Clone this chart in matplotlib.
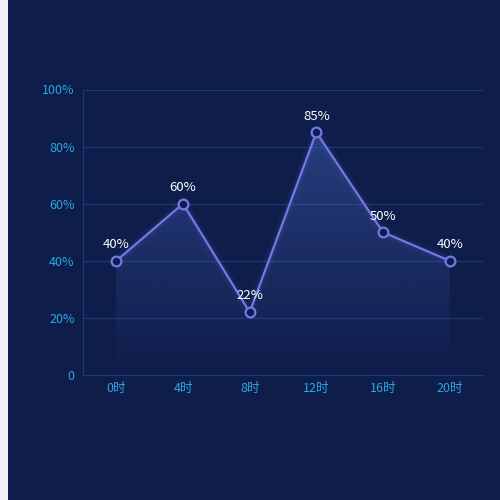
import matplotlib
matplotlib.use("Agg")
import matplotlib.pyplot as plt
import numpy as np
from matplotlib.patches import Rectangle, Polygon

plt.rcParams['font.family'] = ['Noto Sans CJK SC', 'DejaVu Sans']

# 数据
hours = ["0时", "4时", "8时", "12时", "16时", "20时"]
values = [40, 60, 22, 85, 50, 40]
y_ticks = [0, 20, 40, 60, 80, 100]
y_labels = ["0", "20%", "40%", "60%", "80%", "100%"]

bg = "#0f1d4a"
line_c = "#7378e6"
axis_txt = "#29a8e0"
grid_c = "#173a78"

fig = plt.figure(figsize=(5, 5), dpi=100, facecolor=bg)
# 左侧白条
fig.patches.append(Rectangle((0, 0), 8 / 500, 1, transform=fig.transFigure,
                             facecolor="#f0f2f8", edgecolor="none", zorder=0))

ax = fig.add_axes([83 / 500, 125 / 500, 400 / 500, 285.5 / 500])
ax.set_facecolor(bg)
x = np.arange(len(hours))

# 渐变填充
ax.set_xlim(-0.5, len(hours) - 0.5)
ax.set_ylim(0, 100)
grad = np.linspace(0, 1, 256).reshape(-1, 1)
rgba = np.zeros((256, 1, 4))
rgba[..., 0] = 0x4a / 255
rgba[..., 1] = 0x6a / 255
rgba[..., 2] = 0xc8 / 255
rgba[..., 3] = grad * 0.42
img = ax.imshow(rgba, extent=(x[0], x[-1], 0, max(values)), origin="lower",
                aspect="auto", zorder=1)
verts = [(x[0], 0)] + list(zip(x, values)) + [(x[-1], 0)]
clip = Polygon(verts, closed=True, transform=ax.transData, facecolor="none", edgecolor="none")
ax.add_patch(clip)
img.set_clip_path(clip)

# 发光
for lw, a in [(8, 0.035), (5, 0.06)]:
    ax.plot(x, values, color=line_c, lw=lw, alpha=a, zorder=2, solid_capstyle="round")
ax.plot(x, values, color=line_c, lw=1.6, zorder=3)
ax.plot(x, values, linestyle="none", marker="o", markersize=7, markerfacecolor=bg,
        markeredgecolor=line_c, markeredgewidth=1.6, zorder=4)

for xi, v in zip(x, values):
    ax.annotate(f"{v}%", (xi, v), xytext=(0, 7), textcoords="offset points",
                ha="center", va="bottom", color="white", fontsize=9.5,
                fontweight="medium", zorder=5)

ax.set_xticks(x)
ax.set_xticklabels(hours)
ax.set_yticks(y_ticks)
ax.set_yticklabels(y_labels)
ax.tick_params(axis="both", length=0, colors=axis_txt, labelsize=9)
ax.tick_params(axis="x", pad=5)
ax.tick_params(axis="y", pad=6)
ax.grid(axis="y", color=grid_c, lw=0.9, zorder=0)
ax.set_axisbelow(True)
for s in ["top", "right"]:
    ax.spines[s].set_visible(False)
ax.spines["left"].set_color(grid_c)
ax.spines["bottom"].set_color(grid_c)

fig.savefig("out.png", dpi=100, facecolor=bg)
